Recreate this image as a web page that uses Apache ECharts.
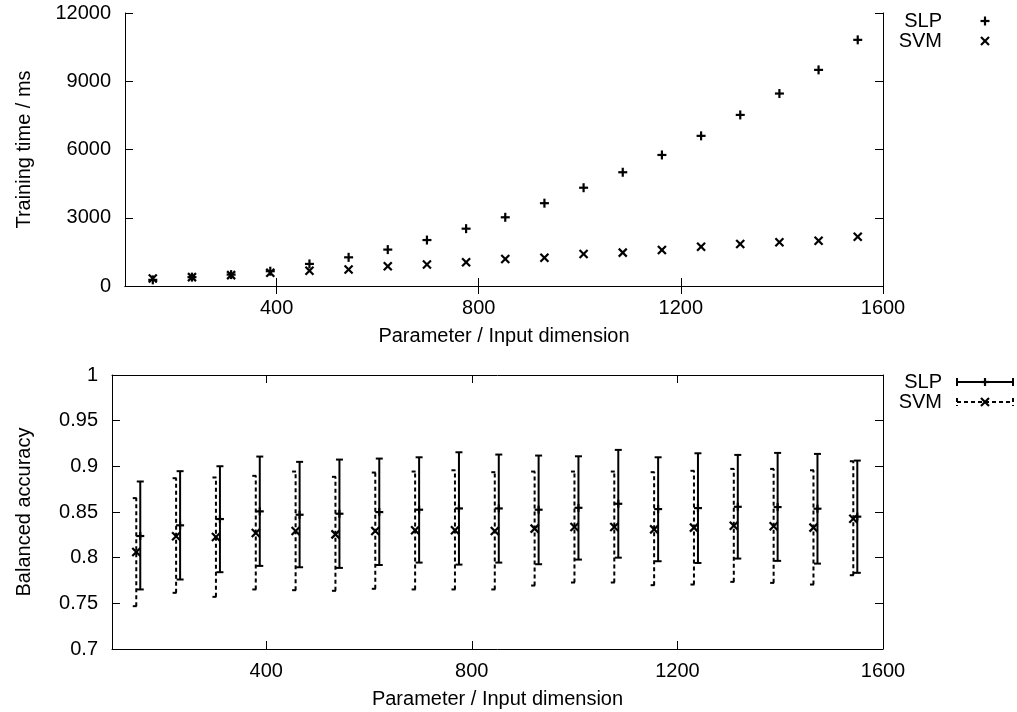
<!DOCTYPE html>
<html><head><meta charset="utf-8">
<script src="https://cdn.jsdelivr.net/npm/echarts@6/dist/echarts.min.js"></script>
<style>html,body{margin:0;padding:0;background:#fff}#c{width:1017px;height:712px}</style>
</head><body><div id="c"></div>
<script>
// ---- data ----
const dims = [155, 232.5, 310, 387.5, 465, 542.5, 620, 697.5, 775, 852.5, 930, 1007.5, 1085, 1162.5, 1240, 1317.5, 1395, 1472.5, 1550];
const slpTime = [270, 390, 500, 650, 970, 1260, 1600, 2020, 2520, 3020, 3640, 4320, 5000, 5760, 6600, 7520, 8460, 9500, 10820];
const svmTime = [330, 390, 478, 580, 667, 726, 870, 943, 1043, 1190, 1245, 1408, 1466, 1584, 1729, 1848, 1922, 1993, 2169];

const slpAcc     = [0.8237, 0.8354, 0.8423, 0.8507, 0.8470, 0.8481, 0.8499, 0.8525, 0.8539, 0.8539, 0.8525, 0.8546, 0.8590, 0.8532, 0.8543, 0.8557, 0.8554, 0.8536, 0.8449];
const slpAccLow  = [0.7652, 0.7761, 0.7841, 0.7910, 0.7895, 0.7888, 0.7920, 0.7946, 0.7924, 0.7946, 0.7928, 0.7979, 0.8000, 0.7961, 0.7942, 0.7990, 0.7965, 0.7935, 0.7834];
const slpAccHigh = [0.8834, 0.8947, 0.9001, 0.9107, 0.9049, 0.9074, 0.9085, 0.9099, 0.9154, 0.9129, 0.9118, 0.9110, 0.9180, 0.9099, 0.9143, 0.9125, 0.9147, 0.9136, 0.9063];
const svmAcc     = [0.8062, 0.8234, 0.8226, 0.8270, 0.8292, 0.8255, 0.8292, 0.8300, 0.8300, 0.8292, 0.8318, 0.8336, 0.8336, 0.8310, 0.8329, 0.8350, 0.8343, 0.8329, 0.8427];
const svmAccLow  = [0.7469, 0.7615, 0.7571, 0.7652, 0.7644, 0.7637, 0.7659, 0.7652, 0.7652, 0.7652, 0.7695, 0.7728, 0.7728, 0.7699, 0.7706, 0.7735, 0.7724, 0.7706, 0.7808];
const svmAccHigh = [0.8652, 0.8870, 0.8878, 0.8896, 0.8943, 0.8885, 0.8932, 0.8943, 0.8957, 0.8936, 0.8943, 0.8943, 0.8943, 0.8936, 0.8951, 0.8972, 0.8972, 0.8957, 0.9056];

const xTicks = [400, 800, 1200, 1600];
const seriesNames = ['SLP', 'SVM'];
const xName = 'Parameter / Input dimension';
const timeName = 'Training time / ms';
const accName = 'Balanced accuracy';

// ---- styling helpers ----
const FONT = 'Liberation Sans, Arial, Helvetica, sans-serif';
const FS = 20;
const BLACK = '#000';

function markLines(cx, cy, r, kind, lw, dash) {
  const st = {stroke: BLACK, lineWidth: lw, lineDash: dash || null};
  if (kind === 'plus') {
    return [
      {type: 'line', shape: {x1: cx - r, y1: cy, x2: cx + r, y2: cy}, style: st},
      {type: 'line', shape: {x1: cx, y1: cy - r, x2: cx, y2: cy + r}, style: st}
    ];
  }
  return [
    {type: 'line', shape: {x1: cx - r, y1: cy - r, x2: cx + r, y2: cy + r}, style: st},
    {type: 'line', shape: {x1: cx - r, y1: cy + r, x2: cx + r, y2: cy - r}, style: st}
  ];
}

function pointSeries(name, values, kind) {
  return {
    type: 'custom', name, xAxisIndex: 0, yAxisIndex: 0,
    data: dims.map((d, i) => [d, values[i]]),
    encode: {x: 0, y: 1},
    renderItem(params, api) {
      const p = api.coord([api.value(0), api.value(1)]);
      const r = kind === 'plus' ? 4.5 : 4;
      return {type: 'group', children: markLines(p[0], p[1], r, kind, 2.2)};
    }
  };
}

function errSeries(name, mean, low, high, kind, dash, dx) {
  return {
    type: 'custom', name, xAxisIndex: 2, yAxisIndex: 2,
    data: dims.map((d, i) => [d, mean[i], low[i], high[i]]),
    encode: {x: 0, y: [1, 2, 3]},
    renderItem(params, api) {
      const x = api.value(0);
      const pm = api.coord([x, api.value(1)]);
      const pl = api.coord([x, api.value(2)]);
      const ph = api.coord([x, api.value(3)]);
      const cx = pm[0] + dx;
      const st = {stroke: BLACK, lineWidth: 2, lineDash: dash};
      const cw = 3.5;
      const ch = [
        {type: 'line', shape: {x1: cx, y1: pl[1], x2: cx, y2: ph[1]}, style: st},
        {type: 'line', shape: {x1: cx - cw, y1: pl[1], x2: cx + cw, y2: pl[1]}, style: st},
        {type: 'line', shape: {x1: cx - cw, y1: ph[1], x2: cx + cw, y2: ph[1]}, style: st}
      ].concat(markLines(cx, pm[1], 4, kind, 2.2));
      return {type: 'group', children: ch};
    }
  };
}

const axisLineStyle = {show: true, lineStyle: {color: BLACK, width: 1}};
const tickStyle = {show: true, inside: true, length: 8, lineStyle: {color: BLACK, width: 1}};
const labelStyle = {color: BLACK, fontSize: FS, fontFamily: FONT, formatter: v => String(v)};

function xAxes(grid, nameGap) {
  return [
    {type: 'value', gridIndex: grid, min: 100, max: 1600, position: 'bottom',
     name: xName, nameLocation: 'middle', nameGap: nameGap,
     nameTextStyle: {color: BLACK, fontSize: FS, fontFamily: FONT},
     axisLine: axisLineStyle,
     axisTick: Object.assign({customValues: xTicks}, tickStyle),
     axisLabel: Object.assign({customValues: xTicks, margin: 12}, labelStyle),
     splitLine: {show: false}},
    {type: 'value', gridIndex: grid, min: 100, max: 1600, position: 'top',
     axisLine: axisLineStyle,
     axisTick: Object.assign({customValues: xTicks}, tickStyle),
     axisLabel: {show: false}, splitLine: {show: false}}
  ];
}
function yAxes(grid, min, max, interval, name, nameGap) {
  return [
    {type: 'value', gridIndex: grid, min, max, interval, position: 'left',
     name, nameLocation: 'middle', nameGap, nameRotate: 90,
     nameTextStyle: {color: BLACK, fontSize: FS, fontFamily: FONT},
     axisLine: axisLineStyle, axisTick: tickStyle,
     axisLabel: Object.assign({margin: 14}, labelStyle),
     splitLine: {show: false}},
    {type: 'value', gridIndex: grid, min, max, interval, position: 'right',
     axisLine: axisLineStyle, axisTick: tickStyle,
     axisLabel: {show: false}, splitLine: {show: false}}
  ];
}

// legend graphics
function legendText(txt, y) {
  return {type: 'text', x: 942, y: y,
    style: {text: txt, fill: BLACK, font: FS + 'px ' + FONT, align: 'right', verticalAlign: 'middle'}};
}
function legendMark(cx, cy, kind) {
  return {type: 'group', children: markLines(cx, cy, kind === 'plus' ? 4.5 : 4, kind, 2.2)};
}
function legendErr(y, kind, dash) {
  const x1 = 957, x2 = 1013, cx = 985, st = {stroke: BLACK, lineWidth: 2, lineDash: dash};
  return {type: 'group', children: [
    {type: 'line', shape: {x1, y1: y, x2, y2: y}, style: st},
    {type: 'line', shape: {x1, y1: y - 4, x2: x1, y2: y + 4}, style: st},
    {type: 'line', shape: {x1: x2, y1: y - 4, x2, y2: y + 4}, style: st}
  ].concat(markLines(cx, y, 4, kind, 2.2))};
}

const chart = echarts.init(document.getElementById('c'), null, {renderer: 'canvas'});
chart.setOption({
  animation: false,
  backgroundColor: '#fff',
  grid: [
    {left: 125, top: 13, width: 758, height: 273, containLabel: false},
    {left: 112, top: 375, width: 771, height: 274, containLabel: false}
  ],
  xAxis: xAxes(0, 40).concat(xAxes(1, 40)),
  yAxis: yAxes(0, 0, 12000, 3000, timeName, 91).concat(yAxes(1, 0.7, 1, 0.05, accName, 78)),
  series: [
    pointSeries(seriesNames[0], slpTime, 'plus'),
    pointSeries(seriesNames[1], svmTime, 'cross'),
    errSeries(seriesNames[0], slpAcc, slpAccLow, slpAccHigh, 'plus', null, 0),
    errSeries(seriesNames[1], svmAcc, svmAccLow, svmAccHigh, 'cross', [4, 3], -4)
  ],
  graphic: [
    legendText(seriesNames[0], 21), legendMark(985, 21, 'plus'),
    legendText(seriesNames[1], 41), legendMark(985, 41, 'cross'),
    legendText(seriesNames[0], 382), legendErr(382, 'plus', null),
    legendText(seriesNames[1], 402), legendErr(402, 'cross', [4, 3])
  ]
});
</script>
</body></html>
